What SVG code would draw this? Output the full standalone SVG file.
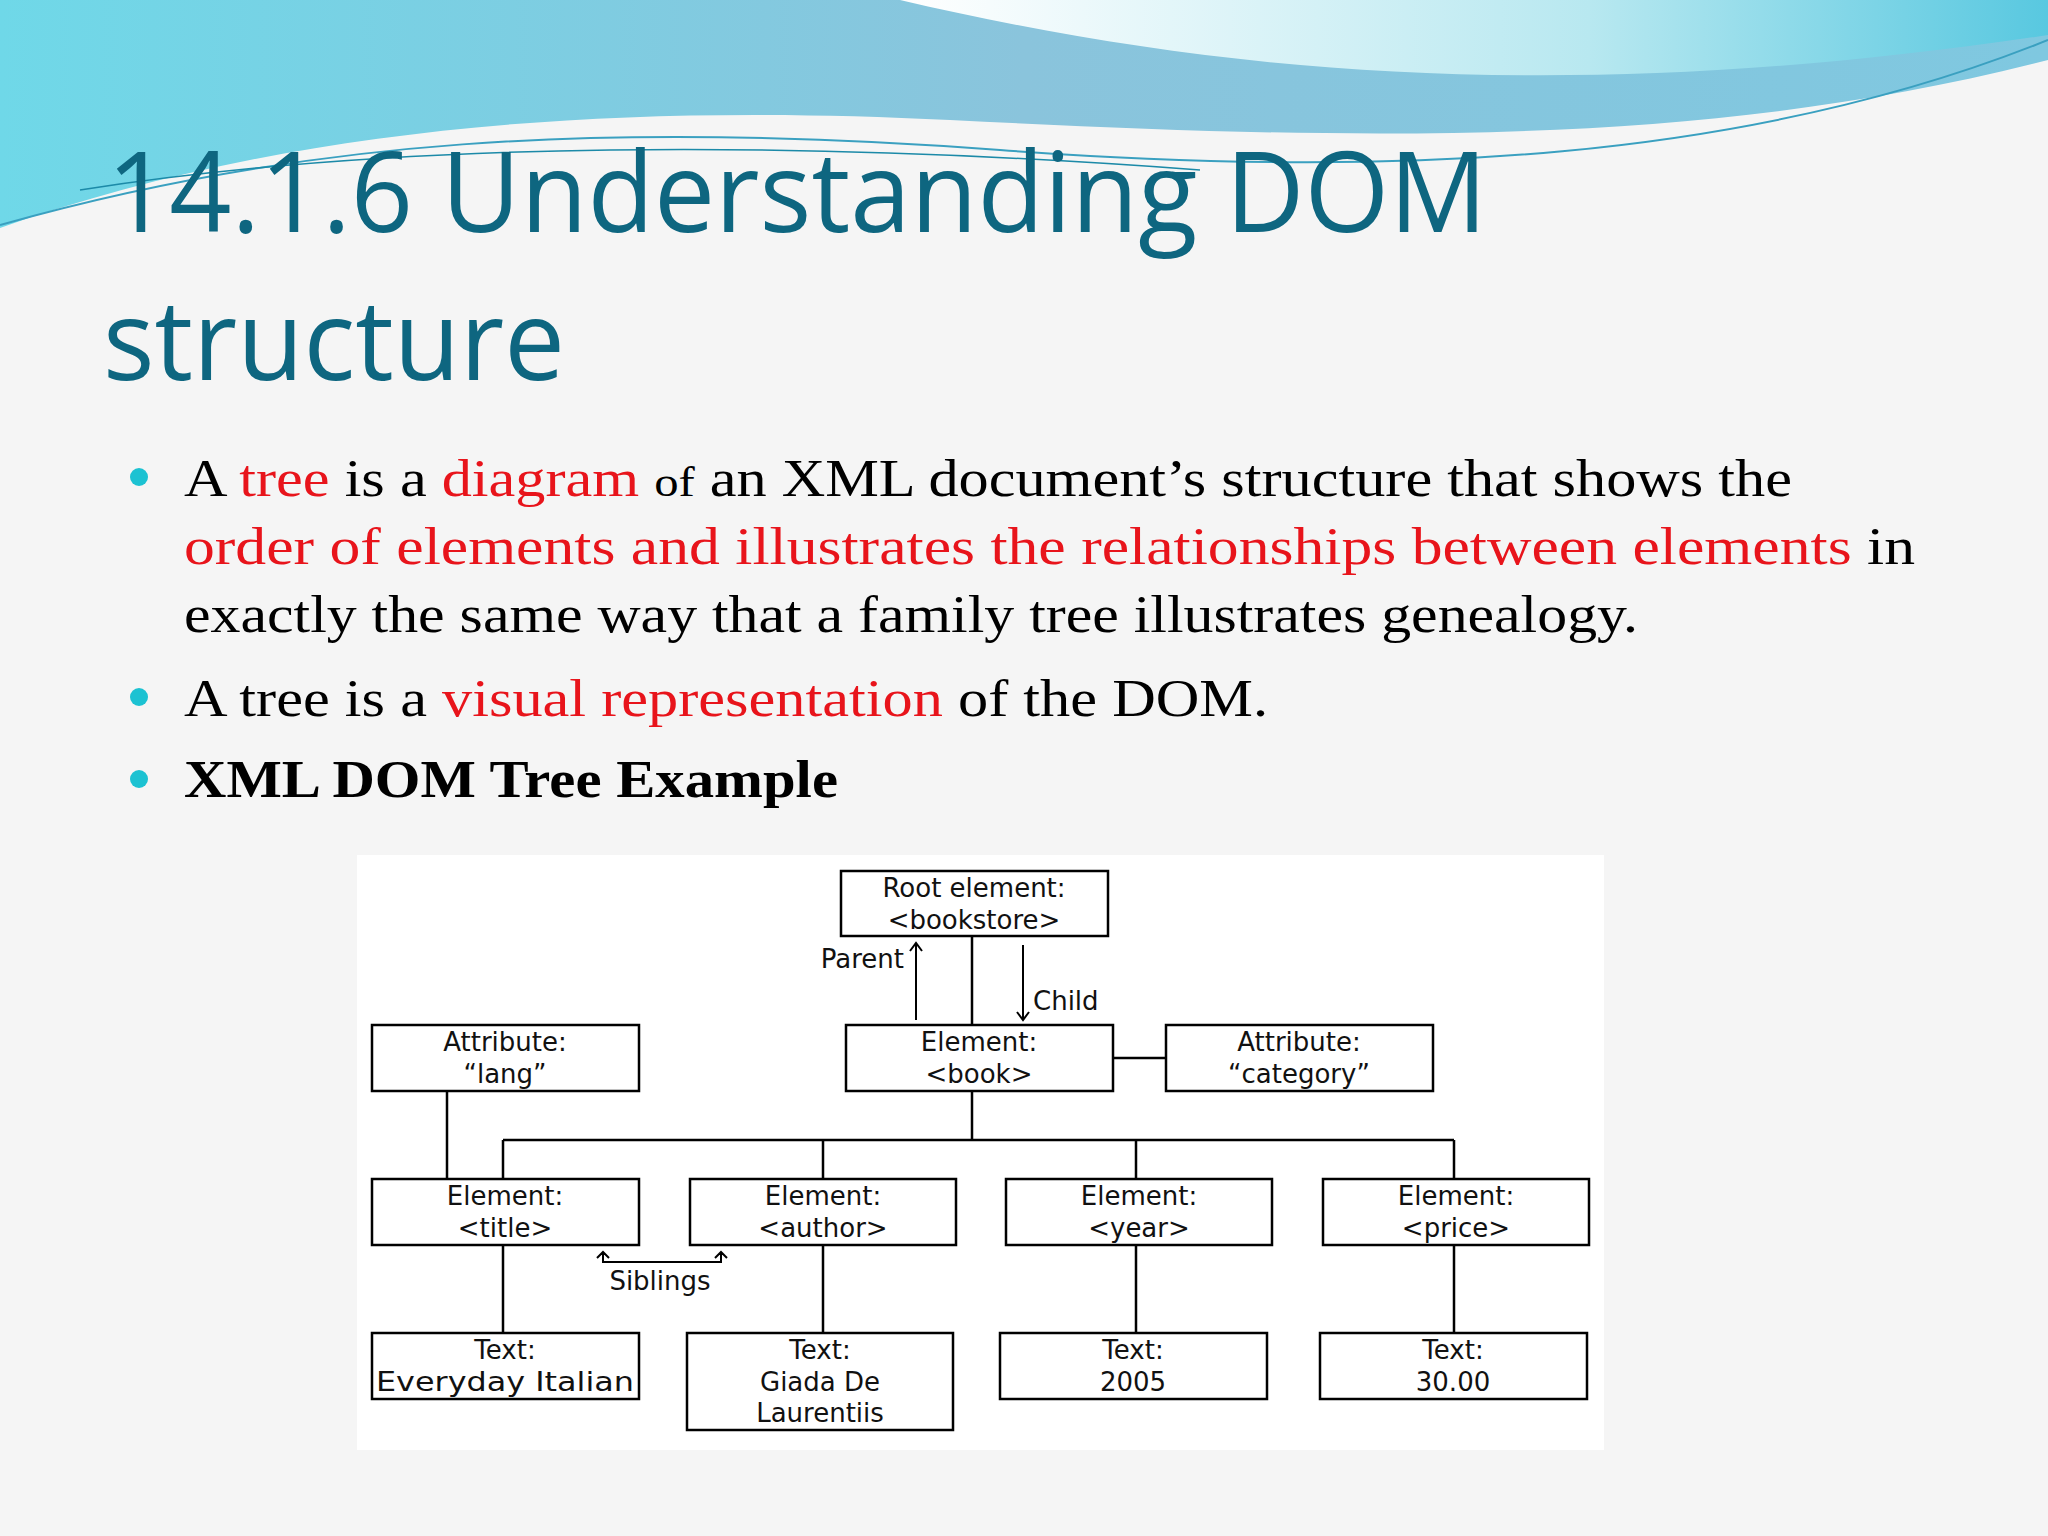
<svg xmlns="http://www.w3.org/2000/svg" width="2048" height="1536" viewBox="0 0 2048 1536">
<defs>
<linearGradient id="wave" x1="0" y1="0" x2="1" y2="0">
<stop offset="0" stop-color="#6fd8e8"/><stop offset="0.5" stop-color="#8ac4dc"/><stop offset="1" stop-color="#7fc8e0"/>
</linearGradient>
<linearGradient id="wave2" x1="0" y1="0" x2="1" y2="0">
<stop offset="0" stop-color="#ffffff"/><stop offset="0.6" stop-color="#b8e8f0"/><stop offset="1" stop-color="#58c8e0"/>
</linearGradient>
<style>
.box{fill:#fff;stroke:#000;stroke-width:2.5}
.t{font-family:"DejaVu Sans",sans-serif;font-size:26px;fill:#111;text-anchor:middle}
.ln{stroke:#000;stroke-width:2.5;fill:none}
.ah{stroke:#000;stroke-width:2;fill:none}
.b{font-family:"Liberation Serif",serif;font-size:52px;fill:#000}
.r{fill:#e8141b}
.ttl{font-family:"Open Sans",sans-serif;font-size:112px;fill:#0e6680}
</style>
</defs>
<rect width="2048" height="1536" fill="#f5f5f5"/>
<path d="M0,0 H2048 V60 C1700,150 1350,140 950,120 C550,100 250,140 0,228 Z" fill="url(#wave)"/>
<path d="M900,0 C1200,70 1550,110 2048,35 V0 Z" fill="url(#wave2)"/>
<path d="M0,225 C300,140 600,120 1000,150 C1400,180 1750,160 2048,40" fill="none" stroke="#3aa0c0" stroke-width="2"/>
<path d="M80,190 C400,140 800,140 1200,170" fill="none" stroke="#1c8aa8" stroke-width="1.5"/>
<text class="ttl" x="107" y="232" textLength="1380" lengthAdjust="spacingAndGlyphs">14.1.6 Understanding DOM</text>
<text class="ttl" x="103" y="380" textLength="462" lengthAdjust="spacingAndGlyphs">structure</text>
<g fill="#1cc2d2"><circle cx="139" cy="477" r="9"/><circle cx="139" cy="697" r="9"/><circle cx="139" cy="779" r="9"/></g>
<text class="b" x="184" y="496" textLength="1608" lengthAdjust="spacingAndGlyphs">A <tspan class="r">tree</tspan> is a <tspan class="r">diagram</tspan> <tspan font-size="42">of</tspan> an XML document’s structure that shows the</text>
<text class="b" x="184" y="564" textLength="1731" lengthAdjust="spacingAndGlyphs"><tspan class="r">order of elements and illustrates the relationships between elements</tspan> in</text>
<text class="b" x="184" y="632" textLength="1454" lengthAdjust="spacingAndGlyphs">exactly the same way that a family tree illustrates genealogy.</text>
<text class="b" x="184" y="716" textLength="1084" lengthAdjust="spacingAndGlyphs">A tree is a <tspan class="r">visual representation</tspan> of the DOM.</text>
<text class="b" x="184" y="797" font-weight="bold" textLength="654" lengthAdjust="spacingAndGlyphs">XML DOM Tree Example</text>
<rect x="357" y="855" width="1247" height="595" fill="#fff"/>
<g id="connectors">
<path class="ln" d="M972,936 V1025 M1113,1058 H1166 M972,1091 V1140 M503,1140 H1454 M503,1140 V1179 M823,1140 V1179 M1136,1140 V1179 M1454,1140 V1179 M447,1091 V1179 M503,1245 V1333 M823,1245 V1333 M1136,1245 V1333 M1454,1245 V1333"/>
<path class="ah" d="M916,1020 V943 M910,951 L916,943 L922,951"/>
<path class="ah" d="M1023,945 V1020 M1017,1012 L1023,1020 L1029,1012"/>
<path class="ah" d="M603,1252 V1262 H721 V1252 M597,1258 L603,1252 L609,1258 M715,1258 L721,1252 L727,1258"/>
<text class="t" x="904" y="968" style="text-anchor:end">Parent</text>
<text class="t" x="1033" y="1010" style="text-anchor:start">Child</text>
<text class="t" x="660" y="1290">Siblings</text>
</g>
<g id="root"><rect class="box" x="841" y="871" width="267" height="65"/><text class="t" x="974" y="897">Root element:</text><text class="t" x="974" y="929">&lt;bookstore&gt;</text></g>
<g id="lang"><rect class="box" x="372" y="1025" width="267" height="66"/><text class="t" x="505" y="1051">Attribute:</text><text class="t" x="505" y="1083">“lang”</text></g>
<g id="book"><rect class="box" x="846" y="1025" width="267" height="66"/><text class="t" x="979" y="1051">Element:</text><text class="t" x="979" y="1083">&lt;book&gt;</text></g>
<g id="category"><rect class="box" x="1166" y="1025" width="267" height="66"/><text class="t" x="1299" y="1051">Attribute:</text><text class="t" x="1299" y="1083">“category”</text></g>
<g id="title"><rect class="box" x="372" y="1179" width="267" height="66"/><text class="t" x="505" y="1205">Element:</text><text class="t" x="505" y="1237">&lt;title&gt;</text></g>
<g id="author"><rect class="box" x="690" y="1179" width="266" height="66"/><text class="t" x="823" y="1205">Element:</text><text class="t" x="823" y="1237">&lt;author&gt;</text></g>
<g id="year"><rect class="box" x="1006" y="1179" width="266" height="66"/><text class="t" x="1139" y="1205">Element:</text><text class="t" x="1139" y="1237">&lt;year&gt;</text></g>
<g id="price"><rect class="box" x="1323" y="1179" width="266" height="66"/><text class="t" x="1456" y="1205">Element:</text><text class="t" x="1456" y="1237">&lt;price&gt;</text></g>
<g id="t1"><rect class="box" x="372" y="1333" width="267" height="66"/><text class="t" x="505" y="1359">Text:</text><text class="t" x="505" y="1391" textLength="258" lengthAdjust="spacingAndGlyphs">Everyday Italian</text></g>
<g id="t2"><rect class="box" x="687" y="1333" width="266" height="97"/><text class="t" x="820" y="1359">Text:</text><text class="t" x="820" y="1391">Giada De</text><text class="t" x="820" y="1422">Laurentiis</text></g>
<g id="t3"><rect class="box" x="1000" y="1333" width="267" height="66"/><text class="t" x="1133" y="1359">Text:</text><text class="t" x="1133" y="1391">2005</text></g>
<g id="t4"><rect class="box" x="1320" y="1333" width="267" height="66"/><text class="t" x="1453" y="1359">Text:</text><text class="t" x="1453" y="1391">30.00</text></g>
</svg>
